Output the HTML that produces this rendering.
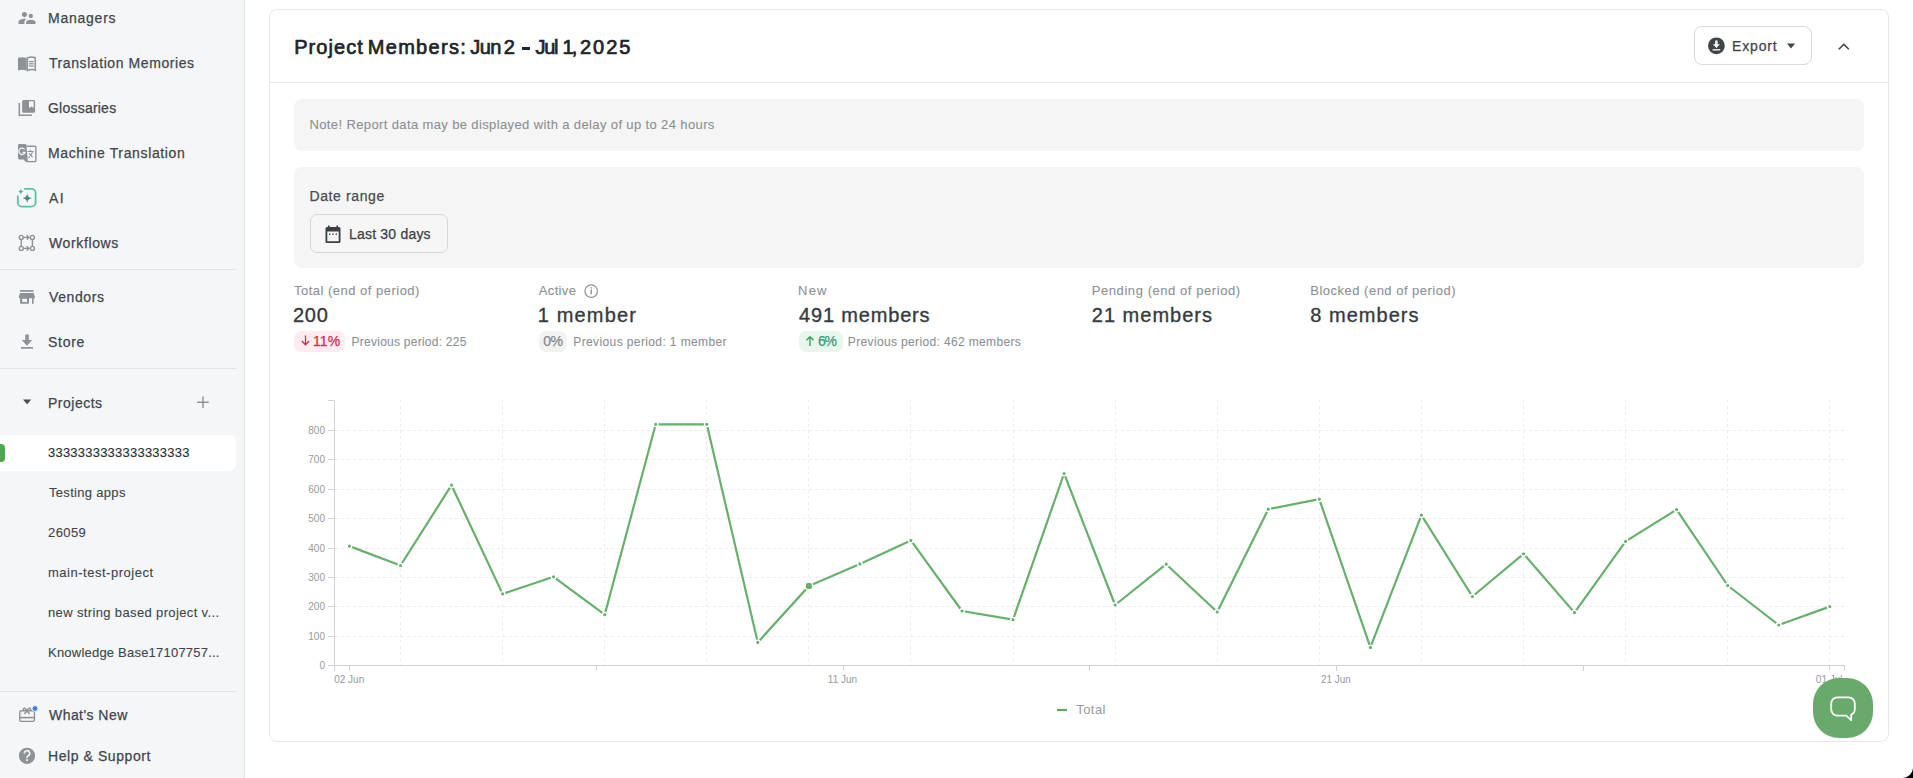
<!DOCTYPE html>
<html><head><meta charset="utf-8">
<style>
html,body{margin:0;padding:0;}
body{width:1913px;height:778px;overflow:hidden;position:relative;background:#fff;font-family:"Liberation Sans",sans-serif;}
.t{position:absolute;white-space:nowrap;-webkit-text-stroke:0.25px currentColor;}
#sb{position:absolute;left:0;top:0;width:244px;height:778px;background:#f5f6f8;border-right:1px solid #e3e5e7;}
.div{position:absolute;left:0;width:236px;height:1px;background:#e1e3e5;}
#sel{position:absolute;left:0;top:435px;width:236px;height:36px;background:#fff;border-radius:0 7px 7px 0;}
#selbar{position:absolute;left:0;top:444px;width:5px;height:18px;background:#4ca84f;border-radius:0 4px 4px 0;}
#card{position:absolute;left:269px;top:9px;width:1618px;height:731px;border:1px solid #e8e8e8;border-radius:8px;background:#fff;}
#hdr{position:absolute;left:270px;top:82px;width:1618px;height:1px;background:#e8e8e8;}
#exp{position:absolute;left:1694px;top:26px;width:116px;height:37px;border:1px solid #d9d9d9;border-radius:8px;}
#note{position:absolute;left:294px;top:99px;width:1570px;height:52px;background:#f5f5f5;border-radius:8px;}
#dr{position:absolute;left:294px;top:167px;width:1570px;height:101px;background:#f5f5f5;border-radius:8px;}
#drb{position:absolute;left:310px;top:214px;width:136px;height:37px;border:1px solid #d6d6d6;border-radius:7px;background:#f6f6f6;}
.badge{position:absolute;top:330.5px;height:21px;border-radius:7px;}
svg{position:absolute;left:0;top:0;}
.g{stroke:#ededed;stroke-width:1;stroke-dasharray:3 3;fill:none;}
.ax{stroke:#d2d2d2;stroke-width:1;fill:none;}
.tl{font-family:"Liberation Sans",sans-serif;font-size:10px;fill:#999;}
.ln{fill:none;stroke:#66b06b;stroke-width:2.2;stroke-linejoin:round;}
.pt{fill:#66b06b;stroke:#fff;stroke-width:1.4;}
#help{position:absolute;left:1813px;top:678px;width:60px;height:60px;background:#68a96c;border-radius:26px;}
#corner{position:absolute;right:0;bottom:0;width:11px;height:11px;background:radial-gradient(circle at 0 0,rgba(0,0,0,0) 10.5px,#000 11.5px);}
</style></head><body>
<div id="sb">
  <div class="div" style="top:269px"></div>
  <div class="div" style="top:368px"></div>
  <div class="div" style="top:691px"></div>
  <div id="sel"></div><div id="selbar"></div>
</div>
<svg width="245" height="778" viewBox="0 0 245 778">
  <!-- managers: supervisor_account -->
  <g transform="translate(16.8,7.8) scale(0.85)" fill="#8d9296"><path d="M16.5 12c1.38 0 2.49-1.12 2.49-2.5S17.88 7 16.5 7C15.12 7 14 8.12 14 9.5s1.12 2.5 2.5 2.5zM9 11c1.66 0 2.99-1.34 2.99-3S10.66 5 9 5C7.34 5 6 6.34 6 8s1.34 3 3 3zm7.5 3c-1.83 0-5.5.92-5.5 2.75V19h11v-2.25c0-1.83-3.67-2.75-5.5-2.75zM9 13c-2.33 0-7 1.17-7 3.5V19h7v-2.25c0-.85.33-2.34 2.37-3.47C10.5 13.1 9.66 13 9 13z"/></g>
  <!-- translation memories: open book -->
  <g fill="#8d9296">
    <path d="M18 57.8c2.8-.9 5.6-.9 8.6.2v12.6c-3-1-5.8-1-8.6-.2z"/>
    <path d="M27.3 58c2.8-1.1 5.6-1.1 7.9-.3v12.4c-2.3-.8-5.1-.8-7.9.4z" fill="none" stroke="#8d9296" stroke-width="1.5"/>
    <rect x="28.8" y="61" width="4.8" height="1.2"/><rect x="28.8" y="63.2" width="4.8" height="1.2"/><rect x="28.8" y="65.4" width="4.8" height="1.2"/>
  </g>
  <!-- glossaries -->
  <g fill="#8d9296">
    <path d="M19.3 103v12.2h12.6" fill="none" stroke="#8d9296" stroke-width="1.5"/>
    <rect x="22.1" y="99.9" width="13" height="12.9" rx="1.6"/>
    <path d="M29 101.2h4.6v6.8l-2.3-1.6-2.3 1.6z" fill="#f5f6f8"/>
  </g>
  <!-- machine translation -->
  <g>
    <path d="M26.5 146.2h8a1.4 1.4 0 0 1 1.4 1.4v12.6a1.4 1.4 0 0 1-1.4 1.4h-8" fill="#f5f6f8" stroke="#8d9296" stroke-width="1.4"/>
    <path d="M19.4 144h5.6a1.4 1.4 0 0 1 1.4 1.4l1.5 16h-3l-.8-1.9h-4.7a1.4 1.4 0 0 1-1.4-1.4v-12.7a1.4 1.4 0 0 1 1.4-1.4z" fill="#8d9296"/>
    <path d="M24.6 149.3a3.2 3.2 0 1 0 .5 3h-2.6" fill="none" stroke="#f5f6f8" stroke-width="1.3"/>
    <path d="M27.5 151.5h6.2M30.3 150v1.5M28.6 157.8l4-5.6M29 153.4l3.6 3.6" stroke="#8d9296" stroke-width="1.1" fill="none"/>
  </g>
  <!-- AI -->
  <g>
    <path d="M24.8 188.8h6.6a4.2 4.2 0 0 1 4.2 4.2v9.4a4.2 4.2 0 0 1-4.2 4.2h-9.4a4.2 4.2 0 0 1-4.2-4.2v-6.2" fill="none" stroke="#5cc0a2" stroke-width="1.8" stroke-linecap="round"/>
    <path d="M27.2 193.3c.6 3.3 1.6 4.3 4.9 4.9-3.3.6-4.3 1.6-4.9 4.9-.6-3.3-1.6-4.3-4.9-4.9 3.3-.6 4.3-1.6 4.9-4.9z" fill="#4a8a7a"/>
    <path d="M20.8 188.4c.4 2 1.1 2.7 3.1 3.1-2 .4-2.7 1.1-3.1 3.1-.4-2-1.1-2.7-3.1-3.1 2-.4 2.7-1.1 3.1-3.1z" fill="#55a98f"/>
  </g>
  <!-- workflows -->
  <g fill="none" stroke="#8d9296" stroke-width="1.4">
    <circle cx="21.3" cy="237.4" r="2"/><circle cx="32.4" cy="237.4" r="2"/>
    <circle cx="21.3" cy="248.4" r="2"/><circle cx="32.4" cy="248.4" r="2"/>
    <path d="M21.3 239.4v7M32.4 239.4v7M23.3 237.4h5.5M23.3 248.4h5.5M26.7 235.2l2.2 2.2-2.2 2.2M26.7 246.2l2.2 2.2-2.2 2.2"/>
  </g>
  <!-- vendors: store -->
  <g fill="#8d9296">
    <rect x="20.1" y="290.1" width="13.5" height="1.7"/>
    <path d="M20.1 293h13.5l1.2 3.6v1.6h-15.9v-1.6z"/>
    <path d="M20.1 298h8.9v5.8h-8.9z M22.2 298.8v3.2h4.8v-3.2z" fill-rule="evenodd"/>
    <rect x="32" y="298" width="1.6" height="5.8"/>
  </g>
  <!-- store: download -->
  <g fill="#8d9296">
    <path d="M25.2 334.5h3.6v5.6h3.5l-5.3 5.6-5.3-5.6h3.5z"/>
    <rect x="21" y="347" width="12" height="1.7"/>
  </g>
  <!-- projects caret & plus -->
  <path d="M23 399.5h8.2l-4.1 4.8z" fill="#474d52"/>
  <path d="M203 396.5v11.5M197.2 402.2h11.5" stroke="#8d9296" stroke-width="1.4"/>
  <!-- what's new: gift -->
  <g fill="none" stroke="#8d9296" stroke-width="1.4">
    <rect x="19.8" y="710.8" width="14.6" height="10.6" rx="1.3"/>
    <path d="M19.8 717.6h14.6" stroke-width="1.6"/>
    <path d="M27 711l-2.6 3M27 711l2.6 3"/>
    <path d="M27 710.6c-1-2.6-3.8-3.4-3.8-1.3 0 1.2 1.8 1.3 3.8 1.3zM27 710.6c1-2.6 3.8-3.4 3.8-1.3 0 1.2-1.8 1.3-3.8 1.3z" stroke-width="1.2"/>
  </g>
  <circle cx="35" cy="708.5" r="2.9" fill="#3b82dd" stroke="#f5f6f8" stroke-width="0.9"/>
  <!-- help -->
  <circle cx="27" cy="755.8" r="8.1" fill="#8d9296"/>
  <path d="M24.3 753.4a2.7 2.7 0 1 1 3.9 2.4c-.9.5-1.2.9-1.2 1.9v.4" fill="none" stroke="#f5f6f8" stroke-width="1.6"/>
  <rect x="26.1" y="759.2" width="1.8" height="1.8" fill="#f5f6f8"/>
</svg>
<div id="card"></div>
<div id="hdr"></div>
<div style="position:absolute;left:521.5px;top:47.4px;width:8.5px;height:2.3px;background:#1f2529;"></div>
<div id="exp"></div>
<div id="note"></div>
<div id="dr"></div>
<div id="drb"></div>
<div class="badge" style="left:294px;width:51px;background:#fdedf0;"></div>
<div class="badge" style="left:539px;width:28px;background:#f2f2f2;"></div>
<div class="badge" style="left:799px;width:44px;background:#e9f6ee;"></div>
<svg width="1913" height="778" viewBox="0 0 1913 778">
  <!-- export icon -->
  <circle cx="1716.4" cy="45.8" r="8.4" fill="#3d4548"/>
  <path d="M1715.2 40.5h2.4v3.8h2.3l-3.5 3.6-3.5-3.6h2.3z" fill="#fff"/>
  <rect x="1712.6" y="49.2" width="7.6" height="1.3" fill="#fff"/>
  <path d="M1787 43.5h8l-4 5z" fill="#3d4548"/>
  <path d="M1838.8 49.3l5-5 5 5" fill="none" stroke="#3d4548" stroke-width="1.6"/>
  <!-- calendar -->
  <g fill="#3a4145">
    <path d="M325.5 228.5a1.5 1.5 0 0 1 1.5-1.5h12a1.5 1.5 0 0 1 1.5 1.5v13a1.5 1.5 0 0 1-1.5 1.5h-12a1.5 1.5 0 0 1-1.5-1.5z M327.3 231.5v9.7h11.4v-9.7z" fill-rule="evenodd"/>
    <rect x="328" y="225.5" width="1.6" height="3"/><rect x="336.4" y="225.5" width="1.6" height="3"/>
    <rect x="329" y="233.5" width="1.4" height="1.4"/><rect x="332.3" y="233.5" width="1.4" height="1.4"/><rect x="335.6" y="233.5" width="1.4" height="1.4"/>
  </g>
  <!-- info icon -->
  <circle cx="591.2" cy="291.1" r="6.3" fill="none" stroke="#8c9196" stroke-width="1.2"/>
  <rect x="590.5" y="289.5" width="1.4" height="4.8" fill="#8c9196"/><rect x="590.5" y="287.2" width="1.4" height="1.4" fill="#8c9196"/>
  <!-- arrows in badges -->
  <path d="M305.5 335.5v9M301.8 341l3.7 3.8 3.7-3.8" fill="none" stroke="#d8294f" stroke-width="1.3"/>
  <path d="M810 346v-9M806.5 340.3l3.5-3.6 3.5 3.6" fill="none" stroke="#2f9e5b" stroke-width="1.3"/>
<line x1="335" y1="636.5" x2="1844" y2="636.5" class="g"/>
<line x1="335" y1="606.5" x2="1844" y2="606.5" class="g"/>
<line x1="335" y1="577.5" x2="1844" y2="577.5" class="g"/>
<line x1="335" y1="548.5" x2="1844" y2="548.5" class="g"/>
<line x1="335" y1="518.5" x2="1844" y2="518.5" class="g"/>
<line x1="335" y1="489.5" x2="1844" y2="489.5" class="g"/>
<line x1="335" y1="459.5" x2="1844" y2="459.5" class="g"/>
<line x1="335" y1="430.5" x2="1844" y2="430.5" class="g"/>
<line x1="400.5" y1="400" x2="400.5" y2="665" class="g"/>
<line x1="502.5" y1="400" x2="502.5" y2="665" class="g"/>
<line x1="604.5" y1="400" x2="604.5" y2="665" class="g"/>
<line x1="706.5" y1="400" x2="706.5" y2="665" class="g"/>
<line x1="808.5" y1="400" x2="808.5" y2="665" class="g"/>
<line x1="910.5" y1="400" x2="910.5" y2="665" class="g"/>
<line x1="1013.5" y1="400" x2="1013.5" y2="665" class="g"/>
<line x1="1115.5" y1="400" x2="1115.5" y2="665" class="g"/>
<line x1="1217.5" y1="400" x2="1217.5" y2="665" class="g"/>
<line x1="1319.5" y1="400" x2="1319.5" y2="665" class="g"/>
<line x1="1421.5" y1="400" x2="1421.5" y2="665" class="g"/>
<line x1="1523.5" y1="400" x2="1523.5" y2="665" class="g"/>
<line x1="1625.5" y1="400" x2="1625.5" y2="665" class="g"/>
<line x1="1727.5" y1="400" x2="1727.5" y2="665" class="g"/>
<line x1="1829.5" y1="400" x2="1829.5" y2="665" class="g"/>
<path d="M328 400.5H334.5V665.5H1844.5V671" class="ax"/>
<path d="M334.5 665.5V671" class="ax"/>
<line x1="328" y1="665.5" x2="334" y2="665.5" class="ax"/>
<text x="325" y="669.0" text-anchor="end" class="tl">0</text>
<line x1="328" y1="636.5" x2="334" y2="636.5" class="ax"/>
<text x="325" y="640.0" text-anchor="end" class="tl">100</text>
<line x1="328" y1="606.5" x2="334" y2="606.5" class="ax"/>
<text x="325" y="610.0" text-anchor="end" class="tl">200</text>
<line x1="328" y1="577.5" x2="334" y2="577.5" class="ax"/>
<text x="325" y="581.0" text-anchor="end" class="tl">300</text>
<line x1="328" y1="548.5" x2="334" y2="548.5" class="ax"/>
<text x="325" y="552.0" text-anchor="end" class="tl">400</text>
<line x1="328" y1="518.5" x2="334" y2="518.5" class="ax"/>
<text x="325" y="522.0" text-anchor="end" class="tl">500</text>
<line x1="328" y1="489.5" x2="334" y2="489.5" class="ax"/>
<text x="325" y="493.0" text-anchor="end" class="tl">600</text>
<line x1="328" y1="459.5" x2="334" y2="459.5" class="ax"/>
<text x="325" y="463.0" text-anchor="end" class="tl">700</text>
<line x1="328" y1="430.5" x2="334" y2="430.5" class="ax"/>
<text x="325" y="434.0" text-anchor="end" class="tl">800</text>
<line x1="349.5" y1="665" x2="349.5" y2="671" class="ax"/>
<line x1="596.5" y1="665" x2="596.5" y2="671" class="ax"/>
<line x1="843.5" y1="665" x2="843.5" y2="671" class="ax"/>
<line x1="1089.5" y1="665" x2="1089.5" y2="671" class="ax"/>
<line x1="1336.5" y1="665" x2="1336.5" y2="671" class="ax"/>
<line x1="1583.5" y1="665" x2="1583.5" y2="671" class="ax"/>
<line x1="1829.5" y1="665" x2="1829.5" y2="671" class="ax"/>
<text x="349.2" y="683" text-anchor="middle" class="tl">02 Jun</text>
<text x="842.5" y="683" text-anchor="middle" class="tl">11 Jun</text>
<text x="1335.9" y="683" text-anchor="middle" class="tl">21 Jun</text>
<text x="1829.2" y="683" text-anchor="middle" class="tl">01 Jul</text>
<polyline points="349.4,546.1 400.5,565.5 451.5,485.2 502.6,593.9 553.6,576.8 604.7,614.7 655.7,424.3 706.8,424.3 757.8,642.4 808.9,585.9 859.9,563.9 910.9,540.4 962.0,611.0 1013.0,619.7 1064.1,473.5 1115.1,605.0 1166.2,564.2 1217.2,612.0 1268.3,509.2 1319.3,499.2 1370.4,647.4 1421.4,515.2 1472.4,596.5 1523.5,553.8 1574.5,612.6 1625.6,541.4 1676.6,509.6 1727.7,585.5 1778.7,625.0 1829.8,606.6" class="ln"/>
<circle cx="349.4" cy="546.1" r="2.3" class="pt"/>
<circle cx="400.5" cy="565.5" r="2.3" class="pt"/>
<circle cx="451.5" cy="485.2" r="2.3" class="pt"/>
<circle cx="502.6" cy="593.9" r="2.3" class="pt"/>
<circle cx="553.6" cy="576.8" r="2.3" class="pt"/>
<circle cx="604.7" cy="614.7" r="2.3" class="pt"/>
<circle cx="655.7" cy="424.3" r="2.3" class="pt"/>
<circle cx="706.8" cy="424.3" r="2.3" class="pt"/>
<circle cx="757.8" cy="642.4" r="2.3" class="pt"/>
<circle cx="808.9" cy="585.9" r="3.9" class="pt"/>
<circle cx="859.9" cy="563.9" r="2.3" class="pt"/>
<circle cx="910.9" cy="540.4" r="2.3" class="pt"/>
<circle cx="962.0" cy="611.0" r="2.3" class="pt"/>
<circle cx="1013.0" cy="619.7" r="2.3" class="pt"/>
<circle cx="1064.1" cy="473.5" r="2.3" class="pt"/>
<circle cx="1115.1" cy="605.0" r="2.3" class="pt"/>
<circle cx="1166.2" cy="564.2" r="2.3" class="pt"/>
<circle cx="1217.2" cy="612.0" r="2.3" class="pt"/>
<circle cx="1268.3" cy="509.2" r="2.3" class="pt"/>
<circle cx="1319.3" cy="499.2" r="2.3" class="pt"/>
<circle cx="1370.4" cy="647.4" r="2.3" class="pt"/>
<circle cx="1421.4" cy="515.2" r="2.3" class="pt"/>
<circle cx="1472.4" cy="596.5" r="2.3" class="pt"/>
<circle cx="1523.5" cy="553.8" r="2.3" class="pt"/>
<circle cx="1574.5" cy="612.6" r="2.3" class="pt"/>
<circle cx="1625.6" cy="541.4" r="2.3" class="pt"/>
<circle cx="1676.6" cy="509.6" r="2.3" class="pt"/>
<circle cx="1727.7" cy="585.5" r="2.3" class="pt"/>
<circle cx="1778.7" cy="625.0" r="2.3" class="pt"/>
<circle cx="1829.8" cy="606.6" r="2.3" class="pt"/>
<line x1="1057" y1="710" x2="1067" y2="710" stroke="#5ea866" stroke-width="2.2"/>
  <!-- help bubble -->
</svg>
<div class="t" style="left:48.0px;top:11.0px;font-size:14px;line-height:14px;color:#3f464b;letter-spacing:0.757px;">Managers</div>
<div class="t" style="left:49.0px;top:56.0px;font-size:14px;line-height:14px;color:#3f464b;letter-spacing:0.579px;">Translation Memories</div>
<div class="t" style="left:48.0px;top:101.0px;font-size:14px;line-height:14px;color:#3f464b;letter-spacing:0.222px;">Glossaries</div>
<div class="t" style="left:48.0px;top:146.0px;font-size:14px;line-height:14px;color:#3f464b;letter-spacing:0.639px;">Machine Translation</div>
<div class="t" style="left:49.0px;top:191.0px;font-size:14px;line-height:14px;color:#3f464b;letter-spacing:1.500px;">AI</div>
<div class="t" style="left:49.0px;top:236.0px;font-size:14px;line-height:14px;color:#3f464b;letter-spacing:0.625px;">Workflows</div>
<div class="t" style="left:49.0px;top:290.0px;font-size:14px;line-height:14px;color:#3f464b;letter-spacing:0.600px;">Vendors</div>
<div class="t" style="left:48.0px;top:335.0px;font-size:14px;line-height:14px;color:#3f464b;letter-spacing:0.725px;">Store</div>
<div class="t" style="left:48.0px;top:396.0px;font-size:14px;line-height:14px;color:#3f464b;letter-spacing:0.500px;">Projects</div>
<div class="t" style="left:48.0px;top:446.0px;font-size:13px;line-height:13px;color:#2b3135;letter-spacing:0.222px;-webkit-text-stroke:0.12px currentColor;">3333333333333333333</div>
<div class="t" style="left:49.0px;top:486.0px;font-size:13px;line-height:13px;color:#3f464b;letter-spacing:0.309px;-webkit-text-stroke:0.12px currentColor;">Testing apps</div>
<div class="t" style="left:48.0px;top:526.0px;font-size:13px;line-height:13px;color:#3f464b;letter-spacing:0.400px;-webkit-text-stroke:0.12px currentColor;">26059</div>
<div class="t" style="left:48.0px;top:566.0px;font-size:13px;line-height:13px;color:#3f464b;letter-spacing:0.513px;-webkit-text-stroke:0.12px currentColor;">main-test-project</div>
<div class="t" style="left:48.0px;top:606.0px;font-size:13px;line-height:13px;color:#3f464b;letter-spacing:0.364px;-webkit-text-stroke:0.12px currentColor;">new string based project v...</div>
<div class="t" style="left:48.0px;top:646.0px;font-size:13px;line-height:13px;color:#3f464b;letter-spacing:0.217px;-webkit-text-stroke:0.12px currentColor;">Knowledge Base17107757...</div>
<div class="t" style="left:49.0px;top:708.0px;font-size:14px;line-height:14px;color:#3f464b;letter-spacing:0.444px;">What&#x27;s New</div>
<div class="t" style="left:48.0px;top:749.0px;font-size:14px;line-height:14px;color:#3f464b;letter-spacing:0.577px;">Help &amp; Support</div>
<div class="t" style="left:294.2px;top:37.0px;font-size:20px;line-height:20px;color:#1f2529;letter-spacing:1.050px;-webkit-text-stroke:0.7px #1f2529;">Project</div>
<div class="t" style="left:367.7px;top:37.0px;font-size:20px;line-height:20px;color:#1f2529;letter-spacing:1.329px;-webkit-text-stroke:0.7px #1f2529;">Members:</div>
<div class="t" style="left:470.3px;top:37.0px;font-size:20px;line-height:20px;color:#1f2529;letter-spacing:-0.600px;-webkit-text-stroke:0.7px #1f2529;">Jun</div>
<div class="t" style="left:503.8px;top:37.0px;font-size:20px;line-height:20px;color:#1f2529;-webkit-text-stroke:0.7px #1f2529;">2</div>
<div class="t" style="left:535.4px;top:37.0px;font-size:20px;line-height:20px;color:#1f2529;letter-spacing:-1.250px;-webkit-text-stroke:0.7px #1f2529;">Jul</div>
<div class="t" style="left:562.6px;top:37.0px;font-size:20px;line-height:20px;color:#1f2529;letter-spacing:-1.900px;-webkit-text-stroke:0.7px #1f2529;">1,</div>
<div class="t" style="left:579.9px;top:37.0px;font-size:20px;line-height:20px;color:#1f2529;letter-spacing:2.033px;-webkit-text-stroke:0.7px #1f2529;">2025</div>
<div class="t" style="left:1732.0px;top:39.0px;font-size:14px;line-height:14px;color:#3d4548;letter-spacing:0.840px;">Export</div>
<div class="t" style="left:309.5px;top:118.0px;font-size:13px;line-height:13px;color:#8a9094;letter-spacing:0.375px;-webkit-text-stroke:0.1px currentColor;">Note! Report data may be displayed with a delay of up to 24 hours</div>
<div class="t" style="left:309.5px;top:189.0px;font-size:14px;line-height:14px;color:#464c51;letter-spacing:0.611px;">Date range</div>
<div class="t" style="left:349.0px;top:227.0px;font-size:14px;line-height:14px;color:#3a4145;letter-spacing:0.200px;">Last 30 days</div>
<div class="t" style="left:294.0px;top:284.0px;font-size:13px;line-height:13px;color:#8c9196;letter-spacing:0.490px;-webkit-text-stroke:0.1px currentColor;">Total (end of period)</div>
<div class="t" style="left:293.0px;top:305.0px;font-size:20px;line-height:20px;color:#353b3f;letter-spacing:0.750px;-webkit-text-stroke:0.35px currentColor;">200</div>
<div class="t" style="left:351.6px;top:335.5px;font-size:12px;line-height:12px;color:#8c9196;letter-spacing:0.247px;-webkit-text-stroke:0.1px currentColor;">Previous period: 225</div>
<div class="t" style="left:538.8px;top:284.0px;font-size:13px;line-height:13px;color:#8c9196;letter-spacing:0.340px;-webkit-text-stroke:0.1px currentColor;">Active</div>
<div class="t" style="left:537.8px;top:305.0px;font-size:20px;line-height:20px;color:#353b3f;letter-spacing:1.143px;-webkit-text-stroke:0.35px currentColor;">1 member</div>
<div class="t" style="left:573.3px;top:335.5px;font-size:12px;line-height:12px;color:#8c9196;letter-spacing:0.383px;-webkit-text-stroke:0.1px currentColor;">Previous period: 1 member</div>
<div class="t" style="left:798.0px;top:284.0px;font-size:13px;line-height:13px;color:#8c9196;letter-spacing:1.250px;-webkit-text-stroke:0.1px currentColor;">New</div>
<div class="t" style="left:799.0px;top:305.0px;font-size:20px;line-height:20px;color:#353b3f;letter-spacing:0.830px;-webkit-text-stroke:0.35px currentColor;">491 members</div>
<div class="t" style="left:847.8px;top:335.5px;font-size:12px;line-height:12px;color:#8c9196;letter-spacing:0.356px;-webkit-text-stroke:0.1px currentColor;">Previous period: 462 members</div>
<div class="t" style="left:1091.8px;top:284.0px;font-size:13px;line-height:13px;color:#8c9196;letter-spacing:0.564px;-webkit-text-stroke:0.1px currentColor;">Pending (end of period)</div>
<div class="t" style="left:1091.8px;top:305.0px;font-size:20px;line-height:20px;color:#353b3f;letter-spacing:1.000px;-webkit-text-stroke:0.35px currentColor;">21 members</div>
<div class="t" style="left:1310.3px;top:284.0px;font-size:13px;line-height:13px;color:#8c9196;letter-spacing:0.491px;-webkit-text-stroke:0.1px currentColor;">Blocked (end of period)</div>
<div class="t" style="left:1310.3px;top:305.0px;font-size:20px;line-height:20px;color:#353b3f;letter-spacing:1.025px;-webkit-text-stroke:0.35px currentColor;">8 members</div>
<div class="t" style="left:313.1px;top:334.0px;font-size:14px;line-height:14px;color:#d42a4e;">11%</div>
<div class="t" style="left:543.3px;top:334.0px;font-size:14px;line-height:14px;color:#85898c;letter-spacing:-0.500px;">0%</div>
<div class="t" style="left:817.9px;top:334.0px;font-size:14px;line-height:14px;color:#3a9a73;letter-spacing:-1.100px;">6%</div>
<div class="t" style="left:1076.2px;top:703.0px;font-size:13px;line-height:13px;color:#999999;letter-spacing:0.450px;-webkit-text-stroke:0;">Total</div>
<div id="help"></div>
<svg width="1913" height="778" viewBox="0 0 1913 778" style="pointer-events:none">
  <path d="M1837.5 697.3h11c3.6 0 6.3 2.7 6.3 6.3v5.4c0 2.6-1.4 4.6-3.5 5.6l-.2 5.6-4.8-4.6h-8.8c-3.6 0-6.3-2.7-6.3-6.3v-5.7c0-3.6 2.7-6.3 6.3-6.3z" fill="none" stroke="#fff" stroke-width="1.8" stroke-linejoin="round"/>
</svg>
<div id="corner"></div>
</body></html>
